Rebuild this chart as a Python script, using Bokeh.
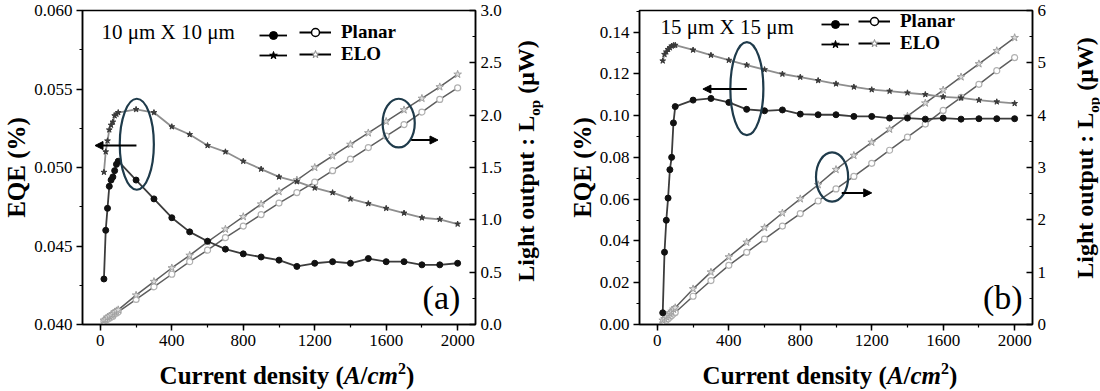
import math
from bokeh.plotting import figure
from bokeh.models import (Range1d, LinearAxis, SingleIntervalTicker, PrintfTickFormatter,
                          Legend, LegendItem, ColumnDataSource, Arrow, NormalHead, Label, Div)
from bokeh.layouts import row, column
from bokeh.embed import file_html
from bokeh.resources import INLINE

# ---------------- data ----------------
# panel (a) 10 um x 10 um
current_a = [20, 30, 40, 50, 60, 70, 80, 90, 100,
             200, 300, 400, 500, 600, 700, 800, 900, 1000,
             1100, 1200, 1300, 1400, 1500, 1600, 1700, 1800, 1900, 2000]
eqe_planar_a = [0.0429, 0.0460, 0.0474, 0.0488, 0.0492, 0.0494, 0.0498, 0.0502, 0.0504,
                0.0492, 0.0480, 0.0468, 0.0459, 0.0453, 0.0448, 0.0445, 0.0443, 0.0441,
                0.0437, 0.0439, 0.0440, 0.0439, 0.0442, 0.0440, 0.0440, 0.0438, 0.0438, 0.0439]
eqe_elo_a = [0.0497, 0.0510, 0.0517, 0.0524, 0.0527, 0.0529, 0.0533, 0.0534, 0.0535,
             0.0537, 0.0535, 0.0526, 0.0521, 0.0514, 0.0510, 0.0504, 0.0499, 0.0494,
             0.0491, 0.0487, 0.0484, 0.0480, 0.0477, 0.0474, 0.0471, 0.0468, 0.0467, 0.0464]
lop_planar_a = [0.03, 0.04, 0.05, 0.06, 0.07, 0.08, 0.10, 0.11, 0.12,
                0.24, 0.36, 0.48, 0.60, 0.71, 0.83, 0.94, 1.05, 1.16,
                1.26, 1.36, 1.47, 1.58, 1.69, 1.80, 1.91, 2.03, 2.15, 2.26]
lop_elo_a = [0.04, 0.05, 0.07, 0.08, 0.09, 0.10, 0.12, 0.13, 0.14,
             0.28, 0.41, 0.54, 0.66, 0.79, 0.91, 1.03, 1.15, 1.27,
             1.38, 1.50, 1.61, 1.72, 1.83, 1.94, 2.05, 2.16, 2.27, 2.39]

# panel (b) 15 um x 15 um
current_b = [30, 40, 50, 60, 70, 80, 90, 100,
             200, 300, 400, 500, 600, 700, 800, 900, 1000,
             1100, 1200, 1300, 1400, 1500, 1600, 1700, 1800, 1900, 2000]
eqe_planar_b = [0.0056, 0.0346, 0.0499, 0.0605, 0.0741, 0.0800, 0.0965, 0.1043,
                0.1074, 0.1082, 0.1063, 0.1030, 0.1023, 0.1027, 0.1007, 0.1004, 0.1004,
                0.0996, 0.0996, 0.0988, 0.0988, 0.0983, 0.0988, 0.0983, 0.0985, 0.0985, 0.0985]
eqe_elo_b = [0.1262, 0.1293, 0.1305, 0.1317, 0.1325, 0.1333, 0.1336, 0.1337,
             0.1314, 0.1289, 0.1265, 0.1242, 0.1220, 0.1199, 0.1184, 0.1168, 0.1152,
             0.1137, 0.1124, 0.1117, 0.1109, 0.1101, 0.1090, 0.1085, 0.1074, 0.1066, 0.1058]
lop_planar_b = [0.02, 0.05, 0.08, 0.11, 0.14, 0.17, 0.20, 0.23,
                0.54, 0.84, 1.13, 1.38, 1.63, 1.88, 2.12, 2.36, 2.59,
                2.83, 3.08, 3.33, 3.58, 3.83, 4.09, 4.34, 4.59, 4.85, 5.10]
lop_elo_b = [0.08, 0.11, 0.15, 0.18, 0.22, 0.25, 0.29, 0.32,
             0.68, 1.00, 1.29, 1.57, 1.85, 2.13, 2.40, 2.67, 2.96,
             3.23, 3.48, 3.73, 3.98, 4.23, 4.48, 4.73, 4.98, 5.23, 5.48]

series_names = ["Planar", "ELO"]
size_labels = ["10 \u03bcm X 10 \u03bcm", "15 \u03bcm X 15 \u03bcm"]
panel_tags = ["(a)", "(b)"]
x_title_html = ("Current density (<i>A</i>/<i>cm</i>"
                "<sup style='font-size:16px;line-height:0;'>2</sup>)")
y_title = "EQE (%)"
r_title_html = "Light output : L<sub style='font-size:15px;line-height:0;'>op</sub> (\u03bcW)"

# ---------------- annotations (data units) ----------------
annot_a = dict(ell1=(204, 0.05148, 191, 0.0058), arr1=(202, 0.0514, -30, 0.0514),
               ell2=(1670, 0.05283, 180, 0.0031), arr2=(1740, 0.05175, 1890, 0.05175),
               tag=(2015, 0.0417), size=(6, 0.0586))
annot_b = dict(ell1=(501, 0.1129, 185, 0.0446), arr1=(501, 0.1127, 255, 0.1127),
               ell2=(978, 0.0706, 180, 0.0235), arr2=(1032, 0.0630, 1200, 0.0630),
               tag=(2045, 0.0127), size=(17, 0.1425))

FONT = "Liberation Serif"
ELL_COLOR = "#1f3b4b"
FRAME_H = 314
FIG_H = 10 + FRAME_H + 30


def style_axis(ax, tick_in=0, tick_out=6):
    ax.axis_line_color = "black"
    ax.axis_line_width = 1.5
    ax.major_tick_line_color = "black"
    ax.minor_tick_line_color = "black"
    ax.major_tick_line_width = 1.5
    ax.minor_tick_line_width = 1.2
    ax.major_tick_in = tick_in
    ax.major_tick_out = tick_out
    ax.minor_tick_in = tick_in // 2
    ax.minor_tick_out = tick_out // 2
    ax.major_label_text_font = FONT
    ax.major_label_text_font_size = "17px"
    ax.major_label_text_color = "black"
    ax.axis_label_text_font = FONT
    ax.axis_label_text_font_size = "25px"
    ax.axis_label_text_font_style = "bold"
    ax.axis_label_text_color = "black"


def make_panel(x, eqe_p, eqe_e, lop_p, lop_e, yr, y_int, y_fmt, lr, l_int, l_fmt,
               annot, size_text, tag, bl, br, leg_top, leg_x):
    p = figure(frame_width=393, frame_height=FRAME_H, x_range=Range1d(-100, 2100),
               y_range=Range1d(*yr), output_backend="svg", toolbar_location=None,
               min_border_left=bl, min_border_right=br, min_border_top=10, min_border_bottom=30)
    p.xgrid.visible = False
    p.ygrid.visible = False
    p.outline_line_color = "black"
    p.outline_line_width = 1.5
    p.background_fill_color = "white"
    p.border_fill_color = "white"
    p.extra_y_ranges = {"L": Range1d(*lr)}

    p.xaxis.ticker = SingleIntervalTicker(interval=400, num_minor_ticks=2)
    style_axis(p.xaxis[0])
    p.xaxis.major_label_standoff = 4

    p.yaxis.ticker = SingleIntervalTicker(interval=y_int, num_minor_ticks=2)
    p.yaxis.formatter = PrintfTickFormatter(format=y_fmt)
    p.yaxis.axis_label = y_title
    style_axis(p.yaxis[0])
    p.yaxis.major_label_standoff = 4
    p.yaxis.axis_label_standoff = 1

    rax = LinearAxis(y_range_name="L", ticker=SingleIntervalTicker(interval=l_int, num_minor_ticks=2),
                     formatter=PrintfTickFormatter(format=l_fmt))
    style_axis(rax, tick_in=6, tick_out=0)
    rax.major_label_standoff = 5
    p.add_layout(rax, "right")

    src = ColumnDataSource(dict(x=x, ep=eqe_p, ee=eqe_e, lp=lop_p, le=lop_e))

    # light output
    p.line("x", "lp", source=src, y_range_name="L", line_color="#5e5e5e", line_width=1.5)
    p.scatter("x", "lp", source=src, y_range_name="L", marker="circle", size=6,
              fill_color="white", line_color="#b0b0b0", line_width=1.2)
    p.line("x", "le", source=src, y_range_name="L", line_color="#5e5e5e", line_width=1.5)
    p.scatter("x", "le", source=src, y_range_name="L", marker="star", size=8,
              fill_color="#dcdcdc", line_color="#a0a0a0", line_width=1)
    # EQE
    p.line("x", "ee", source=src, line_color="#8e8e8e", line_width=1.8)
    p.scatter("x", "ee", source=src, marker="star", size=6, fill_color="#3a3a3a",
              line_color="#3a3a3a")
    p.line("x", "ep", source=src, line_color="#3c3c3c", line_width=1.8)
    p.scatter("x", "ep", source=src, marker="circle", size=6, fill_color="#111111",
              line_color="#111111")

    # ellipses & arrows
    for key in ("ell1", "ell2"):
        ex, ey, ew, eh = annot[key]
        p.ellipse(x=[ex], y=[ey], width=[ew], height=[eh], fill_alpha=0,
                  line_color=ELL_COLOR, line_width=2.2)
    for key in ("arr1", "arr2"):
        x0, y0, x1, y1 = annot[key]
        p.add_layout(Arrow(end=NormalHead(size=8, fill_color="black", line_color="black"),
                           x_start=x0, y_start=y0, x_end=x1, y_end=y1,
                           line_color="black", line_width=2))

    # texts
    sx, sy = annot["size"]
    p.add_layout(Label(x=sx, y=sy, text=size_text, text_font=FONT, text_font_size="21px",
                       text_baseline="middle", text_align="left", text_color="black"))
    tx, ty = annot["tag"]
    p.add_layout(Label(x=tx, y=ty, text=tag, text_font=FONT, text_font_size="34px",
                       text_baseline="middle", text_align="right", text_color="black"))

    # legend (two blocks: filled symbols, open symbols + labels); helper renderers
    # hold a single NaN point so that nothing is drawn inside the frame
    nan = float("nan")
    helper = ColumnDataSource(dict(x=[nan], y=[nan]))
    fl1 = p.line("x", "y", source=helper, line_color="black", line_width=1.8)
    fs1 = p.scatter("x", "y", source=helper, marker="circle", fill_color="black", line_color="black")
    fl2 = p.line("x", "y", source=helper, line_color="black", line_width=1.8)
    fs2 = p.scatter("x", "y", source=helper, marker="star", fill_color="black", line_color="black")
    ol1 = p.line("x", "y", source=helper, line_color="black", line_width=1.8)
    os1 = p.scatter("x", "y", source=helper, marker="circle", fill_color="white",
                    line_color="black", line_width=1.5)
    ol2 = p.line("x", "y", source=helper, line_color="black", line_width=1.8)
    os2 = p.scatter("x", "y", source=helper, marker="star", fill_color="white",
                    line_color="#8a8a8a", line_width=1)

    common = dict(border_line_alpha=0, background_fill_alpha=0, padding=0, margin=0,
                  spacing=0, glyph_height=20, label_height=20,
                  label_text_font=FONT, label_text_font_style="bold",
                  label_text_font_size="19px", label_text_color="black")
    leg_y = FRAME_H - leg_top - 40
    leg1 = Legend(items=[LegendItem(label=" ", renderers=[fl1, fs1]),
                         LegendItem(label=" ", renderers=[fl2, fs2])],
                  location=(leg_x[0], leg_y), glyph_width=28,
                  label_standoff=0, label_width=0, **common)
    leg2 = Legend(items=[LegendItem(label=series_names[0], renderers=[ol1, os1]),
                         LegendItem(label=series_names[1], renderers=[ol2, os2])],
                  location=(leg_x[1], leg_y), glyph_width=32,
                  label_standoff=10, **common)
    p.add_layout(leg1)
    p.add_layout(leg2)
    return p


def text_div(width, height, cx, cy, html, rotate):
    rot = " rotate(-90deg)" if rotate else ""
    content = ("<div style='position:relative;width:%dpx;height:%dpx;'>"
               "<div style=\"position:absolute;left:%dpx;top:%dpx;white-space:nowrap;"
               "transform:translate(-50%%,-50%%)%s;"
               "font-family:'Liberation Serif';font-weight:bold;font-size:%s;"
               "color:black;line-height:1;\">%s</div></div>") % (
        width, height, cx, cy, rot, "24px" if rotate else "25px", html)
    return Div(text=content, width=width, height=height, margin=0)


pa = make_panel(current_a, eqe_planar_a, eqe_elo_a, lop_planar_a, lop_elo_a,
                (0.040, 0.060), 0.005, "%.3f", (0.0, 3.0), 0.5, "%.1f",
                annot_a, size_labels[0], panel_tags[0], 71, 30, 15, (177, 217))
pb = make_panel(current_b, eqe_planar_b, eqe_elo_b, lop_planar_b, lop_elo_b,
                (0.0, 0.1503), 0.02, "%.2f", (0.0, 6.0), 1, "%d",
                annot_b, size_labels[1], panel_tags[1], 86, 30, 4, (182, 219))

ta = text_div(48, FIG_H, 21, 161, r_title_html, True)
tb = text_div(37, FIG_H, 23, 158, r_title_html, True)
xa = text_div(550, 34, 287, 21, x_title_html, False)
xb = text_div(546, 34, 280, 21, x_title_html, False)

layout = column(row(pa, ta, pb, tb), row(xa, xb))
open("out.html", "w").write(file_html(layout, INLINE))
